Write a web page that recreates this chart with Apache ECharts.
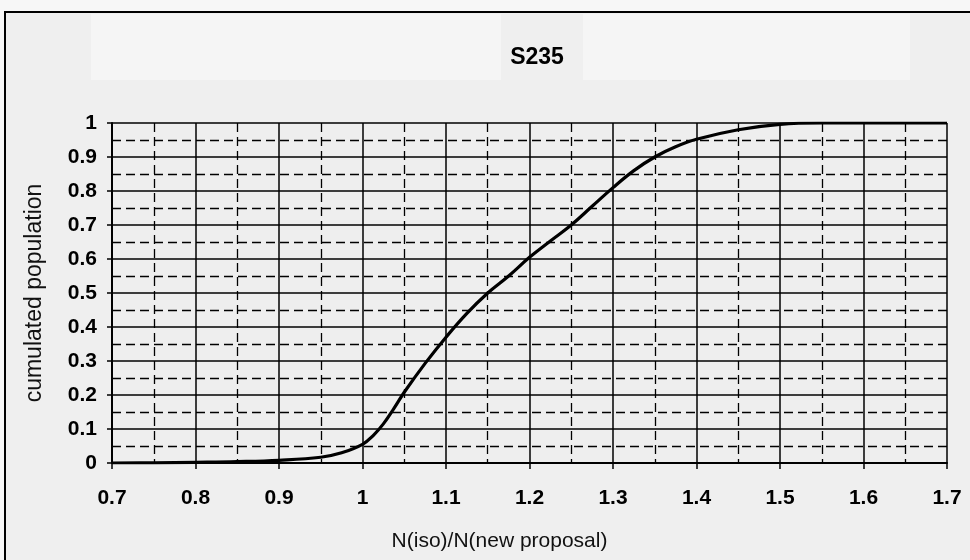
<!DOCTYPE html>
<html>
<head>
<meta charset="utf-8">
<script src="https://cdn.jsdelivr.net/npm/echarts@6/dist/echarts.min.js"></script>
<style>
html,body{margin:0;padding:0;background:#f7f7f7;}
#c{width:970px;height:560px;}
</style>
</head>
<body>
<div id="c"></div>
<script>
const titleText = "S235";
const xName = "N(iso)/N(new proposal)";
const yName = "cumulated population";
const ratio = [0.7, 0.75, 0.8, 0.85, 0.9, 0.95, 0.975, 1.0, 1.0125, 1.025, 1.0375, 1.05, 1.075, 1.1, 1.125, 1.15, 1.175, 1.2, 1.225, 1.25, 1.275, 1.3, 1.325, 1.35, 1.375, 1.4, 1.45, 1.5, 1.55, 1.6, 1.7];
const cumulated = [0, 0.0005, 0.002, 0.004, 0.008, 0.017, 0.03, 0.055, 0.08, 0.115, 0.16, 0.208, 0.293, 0.37, 0.44, 0.5, 0.55, 0.605, 0.653, 0.70, 0.755, 0.81, 0.86, 0.9, 0.93, 0.952, 0.98, 0.996, 1.0, 1.0, 1.0];

const chart = echarts.init(document.getElementById('c'), null, {renderer: 'canvas'});
const fontFam = '"Liberation Sans", Arial, sans-serif';
chart.setOption({
  backgroundColor: 'transparent',
  animation: false,
  graphic: [
    {type: 'rect', z: -10, shape: {x: 5, y: 12, width: 970, height: 560}, style: {fill: '#efefef', stroke: '#000', lineWidth: 2}},
    {type: 'rect', z: -9, shape: {x: 91, y: 14, width: 410, height: 66}, style: {fill: '#f5f5f5'}},
    {type: 'rect', z: -9, shape: {x: 583, y: 14, width: 327, height: 66}, style: {fill: '#f5f5f5'}}
  ],
  title: {
    text: titleText,
    left: 532, top: 41, textAlign: 'center',
    textStyle: {fontFamily: fontFam, fontSize: 23, fontWeight: 'bold', color: '#000'}
  },
  grid: {left: 112, right: 23, top: 123, bottom: 97, show: true, backgroundColor: '#eeeeee', borderWidth: 0},
  xAxis: {
    type: 'value', min: 0.7, max: 1.7, interval: 0.1,
    name: xName, nameLocation: 'middle', nameGap: 68,
    nameTextStyle: {fontFamily: fontFam, fontSize: 21, color: '#111', padding: [0, 60, 0, 0]},
    axisLine: {show: true, lineStyle: {color: '#000', width: 2}},
    axisTick: {show: true, length: 6, lineStyle: {color: '#000', width: 1.5}},
    axisLabel: {margin: 25, fontFamily: fontFam, fontSize: 21, fontWeight: 'bold', color: '#000',
      formatter: v => (Math.round(v * 10) / 10).toString()},
    splitLine: {show: true, lineStyle: {color: '#000', width: 1.5}},
    minorTick: {show: false, splitNumber: 2},
    minorSplitLine: {show: true, lineStyle: {color: '#000', width: 1.3, type: [9, 5]}}
  },
  yAxis: {
    type: 'value', min: 0, max: 1, interval: 0.1,
    name: yName, nameLocation: 'middle', nameGap: 66,
    nameTextStyle: {fontFamily: fontFam, fontSize: 23, color: '#111'},
    axisLine: {show: true, lineStyle: {color: '#000', width: 2}},
    axisTick: {show: true, length: 5, lineStyle: {color: '#000', width: 1.5}},
    axisLabel: {margin: 15, fontFamily: fontFam, fontSize: 21, fontWeight: 'bold', color: '#000',
      formatter: v => (Math.round(v * 10) / 10).toString()},
    splitLine: {show: true, lineStyle: {color: '#000', width: 1.5}},
    minorTick: {show: false, splitNumber: 2},
    minorSplitLine: {show: true, lineStyle: {color: '#000', width: 1.3, type: [9, 5]}}
  },
  series: [{
    type: 'line',
    data: ratio.map((x, i) => [x, cumulated[i]]),
    smooth: 0.4,
    showSymbol: false,
    lineStyle: {color: '#000', width: 3.2},
    z: 5
  }]
});
</script>
</body>
</html>
